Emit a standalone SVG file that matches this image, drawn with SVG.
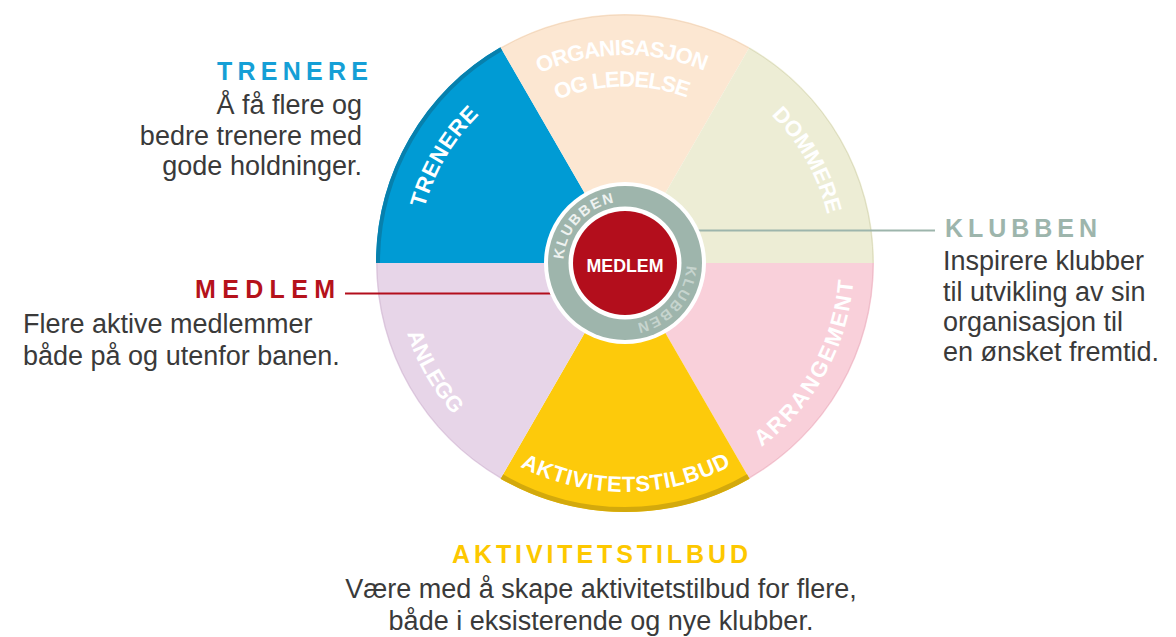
<svg xmlns="http://www.w3.org/2000/svg" width="1176" height="637" viewBox="0 0 1176 637">
<style>
.seglbl{font-family:"Liberation Sans",Arial,sans-serif;font-weight:bold;font-size:22px;fill:#ffffff;text-anchor:middle}
.title{font-family:"Liberation Sans",Arial,sans-serif;font-weight:bold;font-size:25px}
.body{font-family:"Liberation Sans",Arial,sans-serif;font-size:27px;fill:#3a3a3a}
.ring{font-family:"Liberation Sans",Arial,sans-serif;font-weight:bold;font-size:14.5px;letter-spacing:1.8px;text-anchor:middle}
.conn{fill:none}
</style>
<defs>
<path id="topArc" d="M417,263 A208,208 0 0 1 833,263"/>
<path id="topArc2" d="M448.5,263 A176.5,176.5 0 0 1 801.5,263"/>
<path id="botArc" d="M396,263 A229,229 0 0 0 854,263"/>
<path id="ringArc" d="M563.5,263 A61.5,61.5 0 1 1 686.5,263 A61.5,61.5 0 1 1 563.5,263"/>
</defs>
<rect width="1176" height="637" fill="#ffffff"/>

<g id="wheel">
<g id="seg-trenere">
<path d="M625,263 L376,263 A249,249 0 0 1 500.5,47.36 Z" fill="#009bd4"/>
<path d="M378,263 A247,247 0 0 1 501.5,49.1" fill="none" stroke="#0780ad" stroke-width="4"/>
<text class="seglbl" letter-spacing="0.75"><textPath href="#topArc" startOffset="110.7">TRENERE</textPath></text>
</g>
<g id="seg-organisasjon">
<path d="M625,263 L500.5,47.36 A249,249 0 0 1 749.5,47.36 Z" fill="#fce7d2"/>
<path d="M501,48.2 A248,248 0 0 1 749,48.2" fill="none" stroke="#f3d8bd" stroke-width="1"/>
<text class="seglbl" letter-spacing="-0.8"><textPath href="#topArc" startOffset="323">ORGANISASJON</textPath></text>
<text class="seglbl" letter-spacing="-1"><textPath href="#topArc2" startOffset="273.7">OG LEDELSE</textPath></text>
</g>
<g id="seg-dommere">
<path d="M625,263 L749.5,47.36 A249,249 0 0 1 874,263 Z" fill="#ededd5"/>
<path d="M749,48.2 A248,248 0 0 1 873,263" fill="none" stroke="#dcdcbd" stroke-width="1"/>
<text class="seglbl" letter-spacing="0.1"><textPath href="#topArc" startOffset="546.4">DOMMERE</textPath></text>
</g>
<g id="seg-arrangement">
<path d="M625,263 L874,263 A249,249 0 0 1 749.5,478.64 Z" fill="#f9d0da"/>
<path d="M873,263 A248,248 0 0 1 749,477.8" fill="none" stroke="#efbcc9" stroke-width="1"/>
<text class="seglbl" letter-spacing="2.2"><textPath href="#botArc" startOffset="604.3">ARRANGEMENT</textPath></text>
</g>
<g id="seg-aktivitetstilbud">
<path d="M625,263 L749.5,478.64 A249,249 0 0 1 500.5,478.64 Z" fill="#fdca0b"/>
<path d="M748.25,476.48 A246.5,246.5 0 0 1 501.75,476.48" fill="none" stroke="#d3a90c" stroke-width="5"/>
<text class="seglbl" letter-spacing="0.7"><textPath href="#botArc" startOffset="360.7">AKTIVITETSTILBUD</textPath></text>
</g>
<g id="seg-anlegg">
<path d="M625,263 L500.5,478.64 A249,249 0 0 1 376,263 Z" fill="#e7d5e8"/>
<path d="M501,477.8 A248,248 0 0 1 377,263" fill="none" stroke="#d9c3da" stroke-width="1"/>
<text class="seglbl" letter-spacing="0.1"><textPath href="#botArc" startOffset="118.7">ANLEGG</textPath></text>
</g>
</g>

<g id="connectors">
<line class="conn" x1="695" y1="230.5" x2="935" y2="230.5" stroke="#9db5ac" stroke-width="2"/>
<line class="conn" x1="345" y1="293.5" x2="584" y2="293.5" stroke="#b30e1c" stroke-width="1.8"/>
</g>

<g id="klubben-ring">
<circle cx="625" cy="263" r="81" fill="#ffffff"/>
<circle cx="625" cy="263" r="77" fill="#9eb5ac"/>
<text class="ring" fill="#eef2f0"><textPath href="#ringArc" startOffset="45.2">KLUBBEN</textPath></text>
<text class="ring" fill="#c6d4ce"><textPath href="#ringArc" startOffset="237.2">KLUBBEN</textPath></text>
</g>

<g id="medlem-center">
<circle cx="625" cy="263" r="56.5" fill="#ffffff"/>
<circle cx="625" cy="263" r="52" fill="#b30e1c"/>
<text x="625" y="271.7" text-anchor="middle" font-family="Liberation Sans, Arial, sans-serif" font-weight="bold" font-size="19" fill="#ffffff" textLength="77" lengthAdjust="spacingAndGlyphs">MEDLEM</text>
</g>

<g id="label-trenere">
<text class="title" x="217" y="80" fill="#159fd6" textLength="151" lengthAdjust="spacing">TRENERE</text>
<text class="body" x="362" y="114" text-anchor="end">Å få flere og</text>
<text class="body" x="362" y="145" text-anchor="end">bedre trenere med</text>
<text class="body" x="362" y="175" text-anchor="end">gode holdninger.</text>
</g>

<g id="label-medlem">
<text class="title" x="195" y="298" fill="#b5121b" textLength="140" lengthAdjust="spacing">MEDLEM</text>
<text class="body" x="23" y="333">Flere aktive medlemmer</text>
<text class="body" x="23" y="365">både på og utenfor banen.</text>
</g>

<g id="label-klubben">
<text class="title" x="945" y="237" fill="#9db5ac" textLength="152" lengthAdjust="spacing">KLUBBEN</text>
<text class="body" x="943" y="270">Inspirere klubber</text>
<text class="body" x="943" y="300.5">til utvikling av sin</text>
<text class="body" x="943" y="331">organisasjon til</text>
<text class="body" x="943" y="361">en ønsket fremtid.</text>
</g>

<g id="label-aktivitetstilbud">
<text class="title" x="452" y="563" fill="#fdc800" textLength="296" lengthAdjust="spacing">AKTIVITETSTILBUD</text>
<text class="body" x="601" y="598" text-anchor="middle">Være med å skape aktivitetstilbud for flere,</text>
<text class="body" x="601" y="630" text-anchor="middle">både i eksisterende og nye klubber.</text>
</g>
</svg>
